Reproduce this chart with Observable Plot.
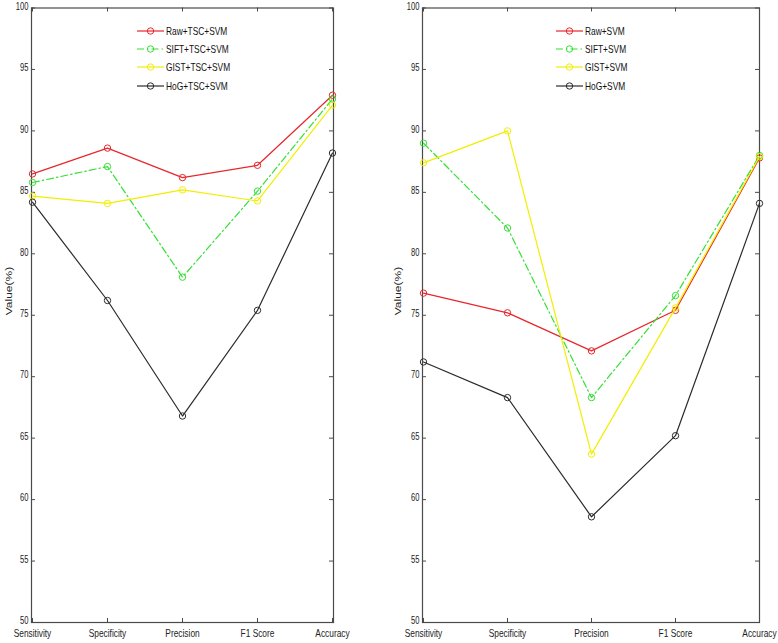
<!DOCTYPE html>
<html>
<head>
<meta charset="utf-8">
<script src="https://cdn.jsdelivr.net/npm/d3@7"></script>
<script src="https://cdn.jsdelivr.net/npm/@observablehq/plot@0.6"></script>
<style>
  body { margin: 0; background: #fff; }
  #chart { position: relative; width: 778px; height: 643px; overflow: hidden;
           font-family: "Liberation Sans", Arial, sans-serif; }
  .panel { position: absolute; top: 0; }
  .legend { position: absolute; font-size: 11px; color: #111; }
  .legend .row { position: absolute; left: 0; height: 12px; display: flex; align-items: center; white-space: nowrap; }
  .legend svg { display: block; margin-right: 2px; }
  .legend span { display: inline-block; transform: scaleX(0.76); transform-origin: left center; }
</style>
</head>
<body>
<div id="chart"></div>
<script>
// Evaluation metrics on the x axis
const metrics = ["Sensitivity", "Specificity", "Precision", "F1 Score", "Accuracy"];
const yTicks = [50, 55, 60, 65, 70, 75, 80, 85, 90, 95, 100];

// Left panel: methods with TSC
const leftNames = ["Raw+TSC+SVM", "SIFT+TSC+SVM", "GIST+TSC+SVM", "HoG+TSC+SVM"];
const rawTsc  = [86.5, 88.6, 86.2, 87.2, 92.9];
const siftTsc = [85.8, 87.1, 78.1, 85.1, 92.6];
const gistTsc = [84.7, 84.1, 85.2, 84.3, 92.1];
const hogTsc  = [84.2, 76.2, 66.8, 75.4, 88.2];

// Right panel: methods without TSC
const rightNames = ["Raw+SVM", "SIFT+SVM", "GIST+SVM", "HoG+SVM"];
const rawSvm  = [76.8, 75.2, 72.1, 75.4, 87.8];
const siftSvm = [89.0, 82.1, 68.3, 76.6, 88.0];
const gistSvm = [87.4, 90.0, 63.7, 75.6, 87.9];
const hogSvm  = [71.2, 68.3, 58.6, 65.2, 84.1];

const seriesColors = ["#e8262b", "#33e033", "#f2ee00", "#2b2b2b"];
const seriesDash = [null, "7,3,1.5,3", null, null];

const W = 389, H = 643;
const MT = 7.5, MB = 21;
const axisColor = "#4a4a4a";
const textColor = "#222";

function panel({series, marginLeft, marginRight, labelDx}) {
  const frameW = W - marginLeft - marginRight;
  const frameH = H - MT - MB;
  const marks = [
    Plot.frame({stroke: axisColor, strokeWidth: 1.2}),
    // inward ticks on all four sides
    Plot.tickY(yTicks, {y: d => d, insetRight: frameW - 4, stroke: axisColor}),
    Plot.tickY(yTicks, {y: d => d, insetLeft: frameW - 4, stroke: axisColor}),
    Plot.tickX(metrics, {x: d => d, insetTop: frameH - 4, stroke: axisColor}),
    Plot.tickX(metrics, {x: d => d, insetBottom: frameH - 4, stroke: axisColor}),
    Plot.axisY(yTicks, {tickSize: 0, tickPadding: 3, dy: -1.5, label: null, fontSize: 10, fill: textColor}),
    Plot.axisX(metrics, {tickSize: 0, tickPadding: 6.5, label: null, fontSize: 11, fill: textColor}),
    Plot.text(["Value(%)"], {frameAnchor: "left", rotate: -90, dx: labelDx, text: d => d, fontSize: 12, fill: textColor})
  ];
  series.forEach((vals, i) => {
    const rows = vals.map((v, j) => ({metric: metrics[j], value: v}));
    marks.push(Plot.line(rows, {x: "metric", y: "value", stroke: seriesColors[i], strokeWidth: 1.2,
                                strokeDasharray: seriesDash[i] ?? undefined}));
    marks.push(Plot.dot(rows, {x: "metric", y: "value", r: 3.2, stroke: seriesColors[i], fill: "none", strokeWidth: 1}));
  });
  const svg = Plot.plot({
    width: W, height: H,
    marginLeft, marginRight, marginTop: MT, marginBottom: MB,
    style: {fontFamily: "'Liberation Sans', Arial, sans-serif", background: "transparent", overflow: "visible"},
    x: {type: "point", domain: metrics, padding: 0},
    y: {domain: [50, 100]},
    marks
  });
  condenseText(svg);
  return svg;
}

// Narrow the lettering: horizontal text is compressed along its width,
// the rotated axis title across its height.
function condenseText(svg) {
  svg.querySelectorAll("text").forEach(t => {
    const x = +t.getAttribute("x") || 0, y = +t.getAttribute("y") || 0;
    const tr = t.getAttribute("transform") || "";
    const s = /rotate/.test(tr) ? "scale(1,0.78)" : "scale(0.76,1)";
    t.setAttribute("transform", `${tr} translate(${x},${y}) ${s} translate(${-x},${-y})`);
  });
}

function legend(names, left, top) {
  const box = document.createElement("div");
  box.className = "legend";
  box.style.left = left + "px";
  box.style.top = top + "px";
  names.forEach((name, i) => {
    const row = document.createElement("div");
    row.className = "row";
    row.style.top = (i * 18.2) + "px";
    const dash = seriesDash[i] ? `stroke-dasharray="${seriesDash[i]}"` : "";
    row.innerHTML = `<svg width="27" height="12"><line x1="0" y1="6" x2="27" y2="6" stroke="${seriesColors[i]}" stroke-width="1.2" ${dash}/>` +
      `<circle cx="13.5" cy="6" r="3.2" fill="none" stroke="${seriesColors[i]}"/></svg><span>${name}</span>`;
    box.appendChild(row);
  });
  return box;
}

const chart = document.getElementById("chart");

const leftWrap = document.createElement("div");
leftWrap.className = "panel";
leftWrap.style.left = "0px";
leftWrap.appendChild(panel({series: [rawTsc, siftTsc, gistTsc, hogTsc], marginLeft: 31, marginRight: 56, labelDx: -23}));
chart.appendChild(leftWrap);

const rightWrap = document.createElement("div");
rightWrap.className = "panel";
rightWrap.style.left = "389px";
rightWrap.appendChild(panel({series: [rawSvm, siftSvm, gistSvm, hogSvm], marginLeft: 33, marginRight: 19, labelDx: -25}));
chart.appendChild(rightWrap);

chart.appendChild(legend(leftNames, 137, 25));
chart.appendChild(legend(rightNames, 556, 25));
</script>
</body>
</html>
